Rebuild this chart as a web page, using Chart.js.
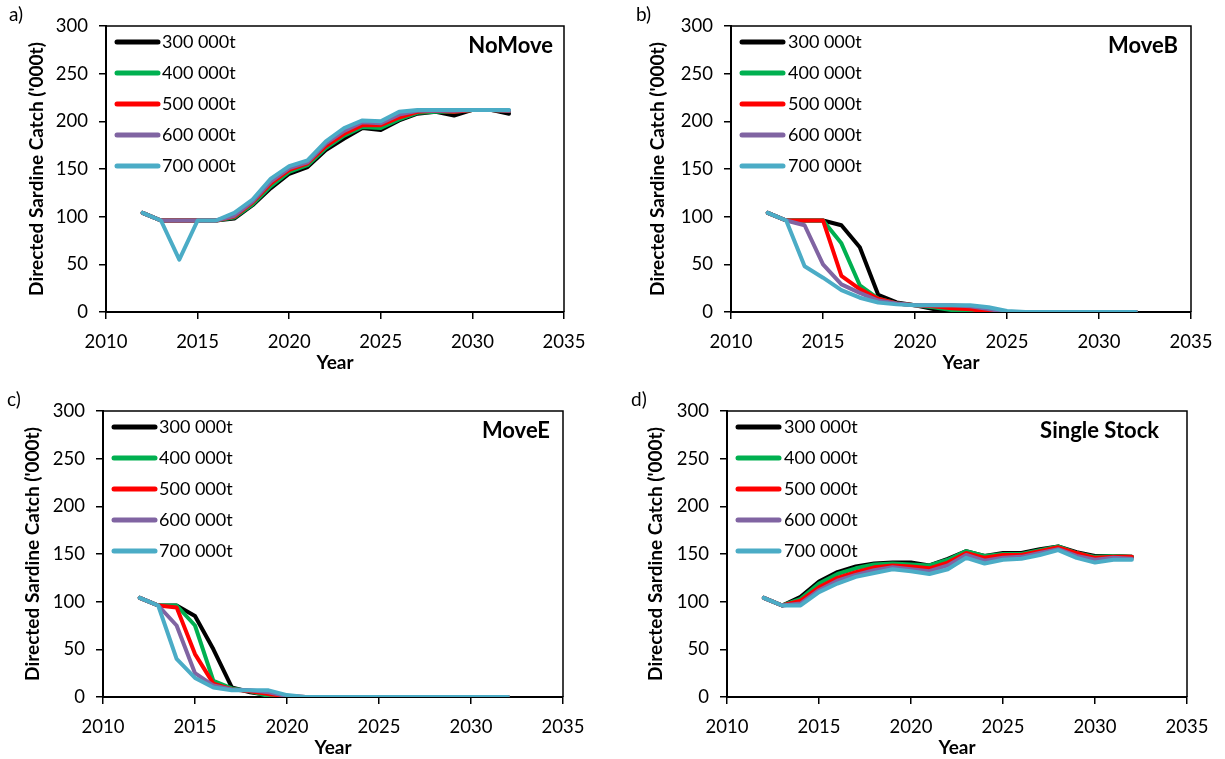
<!DOCTYPE html>
<html>
<head>
<meta charset="utf-8">
<script src="https://cdn.jsdelivr.net/npm/chart.js@4.4.0/dist/chart.umd.min.js"></script>
<style>
  html, body { margin: 0; padding: 0; background: #ffffff; }
  #wrap { position: relative; width: 1225px; height: 759px; overflow: hidden; background: #fff; }
  canvas { position: absolute; }
</style>
</head>
<body>
<div id="wrap">
  <canvas id="pa" width="612" height="380" style="left:0;top:0"></canvas>
  <canvas id="pb" width="613" height="380" style="left:612px;top:0"></canvas>
  <canvas id="pc" width="612" height="379" style="left:0;top:380px"></canvas>
  <canvas id="pd" width="613" height="379" style="left:612px;top:380px"></canvas>
</div>
<script>
// Projection years and the TAC scenarios shown in every panel
const years = [2012, 2013, 2014, 2015, 2016, 2017, 2018, 2019, 2020, 2021, 2022,
               2023, 2024, 2025, 2026, 2027, 2028, 2029, 2030, 2031, 2032];
const tacLabels = ['300 000t', '400 000t', '500 000t', '600 000t', '700 000t'];
const seriesColors = ['#000000', '#00B050', '#FF0000', '#8064A2', '#4BACC6'];
const xTicks = [2010, 2015, 2020, 2025, 2030, 2035];
const yTicks = [0, 50, 100, 150, 200, 250, 300];

// a) NoMove
const noMove300 = [104, 96, 96, 96, 96, 98, 112, 130, 145, 152, 170, 182, 193, 191, 201, 208, 210, 206, 212, 212, 208];
const noMove400 = [104, 96, 96, 96, 96, 99, 113, 132, 147, 154, 172, 185, 194, 193, 202, 209, 210, 210, 212, 212, 211];
const noMove500 = [104, 96, 96, 96, 96, 100, 115, 135, 149, 156, 174, 187, 196, 196, 204, 210, 211, 210, 212, 212, 211];
const noMove600 = [104, 96, 96, 96, 96, 101, 116, 137, 151, 157, 177, 190, 199, 198, 207, 211, 211, 211, 212, 212, 211];
const noMove700 = [104, 96, 55, 96, 96, 104, 118, 140, 153, 159, 179, 193, 201, 200, 210, 212, 212, 212, 212, 212, 212];

// b) MoveB
const moveB300 = [104, 96, 96, 96, 91, 68, 18, 10, 7, 3, 1, 0, 0, 0, 0, 0, 0, 0, 0, 0, 0];
const moveB400 = [104, 96, 96, 96, 72, 28, 14, 9, 7, 5, 2, 0, 0, 0, 0, 0, 0, 0, 0, 0, 0];
const moveB500 = [104, 96, 96, 96, 38, 24, 14, 9, 7, 6, 4, 3, 0, 0, 0, 0, 0, 0, 0, 0, 0];
const moveB600 = [104, 96, 91, 50, 29, 20, 12, 9, 7, 7, 7, 6, 3, 0, 0, 0, 0, 0, 0, 0, 0];
const moveB700 = [104, 96, 48, 36, 23, 15, 10, 8, 7, 7, 7, 7, 5, 1, 0, 0, 0, 0, 0, 0, 0];

// c) MoveE
const moveE300 = [104, 96, 96, 85, 50, 10, 5, 2, 0, 0, 0, 0, 0, 0, 0, 0, 0, 0, 0, 0, 0];
const moveE400 = [104, 96, 96, 75, 17, 9, 6, 1, 0, 0, 0, 0, 0, 0, 0, 0, 0, 0, 0, 0, 0];
const moveE500 = [104, 96, 94, 45, 14, 8, 6, 3, 1, 0, 0, 0, 0, 0, 0, 0, 0, 0, 0, 0, 0];
const moveE600 = [104, 96, 75, 25, 12, 8, 7, 5, 1, 0, 0, 0, 0, 0, 0, 0, 0, 0, 0, 0, 0];
const moveE700 = [104, 96, 40, 20, 10, 7, 7, 7, 2, 0, 0, 0, 0, 0, 0, 0, 0, 0, 0, 0, 0];

// d) Single Stock
const single300 = [104, 96, 105, 121, 131, 137, 140, 141, 141, 138, 145, 153, 148, 151, 151, 155, 158, 152, 148, 148, 147];
const single400 = [104, 96, 103, 119, 129, 135, 139, 140, 139, 138, 144, 153, 148, 150, 150, 154, 158, 151, 147, 148, 147];
const single500 = [104, 96, 101, 115, 125, 131, 136, 138, 137, 135, 141, 151, 146, 149, 149, 153, 157, 151, 146, 147, 147];
const single600 = [104, 96, 98, 112, 122, 128, 133, 136, 134, 132, 138, 149, 143, 146, 147, 151, 155, 148, 144, 146, 145];
const single700 = [104, 96, 96, 110, 119, 126, 130, 134, 132, 129, 134, 146, 140, 144, 145, 149, 154, 146, 141, 144, 144];

const FONT = 'Lato, "Open Sans", sans-serif';

// Frame on top/right, in-plot legend, scenario name and panel letter
const panelDecor = {
  id: 'panelDecor',
  afterDatasetsDraw(chart, args, o) {
    const ctx = chart.ctx;
    const a = chart.chartArea;
    ctx.save();
    ctx.strokeStyle = '#000';
    ctx.lineWidth = 1.5;
    ctx.beginPath();
    ctx.moveTo(a.left, a.top);
    ctx.lineTo(a.right, a.top);
    ctx.lineTo(a.right, a.bottom);
    ctx.stroke();

    chart.data.datasets.forEach((ds, i) => {
      const y = o.legY + i * o.legStep;
      ctx.strokeStyle = ds.borderColor;
      ctx.lineWidth = 5;
      ctx.lineCap = 'round';
      ctx.beginPath();
      ctx.moveTo(o.legX0, y);
      ctx.lineTo(o.legX1, y);
      ctx.stroke();
      ctx.fillStyle = '#000';
      ctx.font = '18px ' + FONT;
      ctx.textBaseline = 'middle';
      ctx.textAlign = 'left';
      ctx.fillText(ds.label, o.legText, y);
    });

    ctx.fillStyle = '#000';
    ctx.textBaseline = 'middle';
    ctx.font = 'bold 22px ' + FONT;
    ctx.textAlign = 'right';
    ctx.fillText(o.title, o.titleX, o.titleY);

    ctx.font = '19px ' + FONT;
    ctx.textAlign = 'left';
    ctx.fillText(o.letter, o.letterX, o.letterY);
    ctx.restore();
  }
};

const TITLE_HALF_LINE = 19 * 1.2 / 2;

function makePanel(id, seriesList, g) {
  const canvas = document.getElementById(id);
  const W = canvas.width, H = canvas.height;
  const datasets = seriesList.map((vals, i) => ({
    label: tacLabels[i],
    data: years.map((yr, k) => ({ x: yr, y: vals[k] })),
    borderColor: seriesColors[i],
    backgroundColor: seriesColors[i],
    borderWidth: 4,
    borderJoinStyle: 'round',
    borderCapStyle: 'round',
    pointRadius: 0,
    tension: 0,
    order: seriesList.length - i   // highest TAC drawn on top
  }));
  new Chart(canvas, {
    type: 'line',
    data: { datasets },
    plugins: [panelDecor],
    options: {
      responsive: false,
      animation: false,
      devicePixelRatio: 1,
      layout: { padding: { left: 0, top: g.top, right: W - g.right, bottom: 0 } },
      plugins: {
        legend: { display: false },
        tooltip: { enabled: false },
        panelDecor: g.decor
      },
      scales: {
        x: {
          type: 'linear',
          min: xTicks[0],
          max: xTicks[xTicks.length - 1],
          afterBuildTicks: s => { s.ticks = xTicks.map(v => ({ value: v })); },
          afterFit: s => { s.height = H - g.bottom; },
          ticks: {
            color: '#000',
            padding: 12,
            maxRotation: 0,
            font: { family: FONT, size: 18.5 },
            callback: v => String(v)
          },
          grid: { drawOnChartArea: false, drawTicks: true, tickLength: 7, color: '#000', lineWidth: 1.5 },
          border: { color: '#000', width: 2 },
          title: {
            display: true,
            text: 'Year',
            color: '#000',
            font: { family: FONT, size: 19, weight: 'bold' },
            padding: { top: 0, bottom: Math.max(0, H - g.xTitleY - TITLE_HALF_LINE) }
          }
        },
        y: {
          type: 'linear',
          min: yTicks[0],
          max: yTicks[yTicks.length - 1],
          afterBuildTicks: s => { s.ticks = yTicks.map(v => ({ value: v })); },
          afterFit: s => { s.width = g.left; },
          ticks: {
            color: '#000',
            padding: 11,
            font: { family: FONT, size: 18.5 },
            callback: v => String(v)
          },
          grid: { drawOnChartArea: false, drawTicks: true, tickLength: 7, color: '#000', lineWidth: 1.5 },
          border: { color: '#000', width: 2 },
          title: {
            display: true,
            text: "Directed Sardine Catch ('000t)",
            color: '#000',
            font: { family: FONT, size: 19, weight: 'bold' },
            padding: { top: g.yTitleX - TITLE_HALF_LINE, bottom: 0 }
          }
        }
      }
    }
  });
}

makePanel('pa', [noMove300, noMove400, noMove500, noMove600, noMove700], {
  left: 106, right: 564, top: 26, bottom: 312, xTitleY: 363, yTitleX: 37,
  decor: { legX0: 117, legX1: 158, legText: 162, legY: 42, legStep: 31,
           title: 'NoMove', titleX: 553, titleY: 46, letter: 'a)', letterX: 9, letterY: 15 }
});
makePanel('pb', [moveB300, moveB400, moveB500, moveB600, moveB700], {
  left: 119, right: 579, top: 26, bottom: 312, xTitleY: 363, yTitleX: 46,
  decor: { legX0: 130, legX1: 171, legText: 176, legY: 42, legStep: 31,
           title: 'MoveB', titleX: 566, titleY: 46, letter: 'b)', letterX: 24, letterY: 15 }
});
makePanel('pc', [moveE300, moveE400, moveE500, moveE600, moveE700], {
  left: 103, right: 563, top: 31, bottom: 317, xTitleY: 368, yTitleX: 33,
  decor: { legX0: 114, legX1: 155, legText: 159, legY: 47, legStep: 31,
           title: 'MoveE', titleX: 550, titleY: 51, letter: 'c)', letterX: 7, letterY: 20 }
});
makePanel('pd', [single300, single400, single500, single600, single700], {
  left: 115, right: 575, top: 31, bottom: 317, xTitleY: 368, yTitleX: 44,
  decor: { legX0: 126, legX1: 167, legText: 172, legY: 47, legStep: 31,
           title: 'Single Stock', titleX: 547, titleY: 51, letter: 'd)', letterX: 19, letterY: 20 }
});
</script>
</body>
</html>
